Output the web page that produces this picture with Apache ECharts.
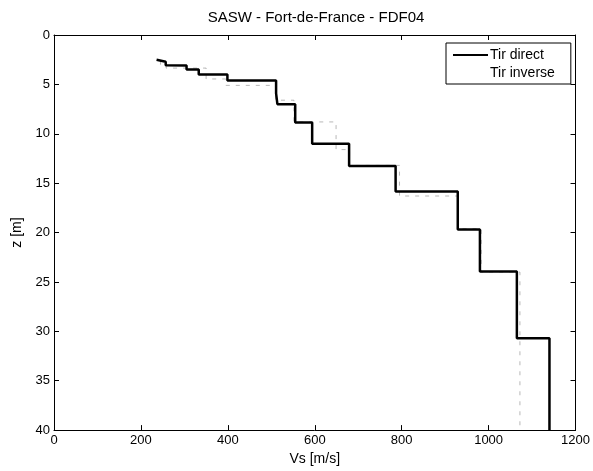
<!DOCTYPE html>
<html>
<head>
<meta charset="utf-8">
<script src="https://cdn.jsdelivr.net/npm/echarts@6/dist/echarts.min.js"></script>
<style>
  html, body { margin: 0; padding: 0; background: #fff; }
  #chart { width: 593px; height: 471px; }
</style>
</head>
<body>
<div id="chart"></div>
<script>
// step profiles: [Vs (m/s), z (m)]
const directVs = [236, 236, 257, 257, 259, 259, 305, 305, 333, 333, 399, 399, 511, 511, 514, 514, 555, 555, 594, 594, 679, 679, 786, 786, 929, 929, 980, 980, 1065, 1065, 1140, 1140];
const directZ  = [2.5, 2.7, 2.7, 3.05, 3.05, 3.1, 3.1, 3.5, 3.5, 4.0, 4.0, 4.6, 4.6, 5.9, 5.9, 7.0, 7.0, 8.85, 8.85, 11.0, 11.0, 13.25, 13.25, 15.85, 15.85, 19.7, 19.7, 23.95, 23.95, 30.7, 30.7, 40];

const inverseVs = [245, 245, 258, 258, 350, 350, 395, 395, 510, 510, 552, 552, 649, 649, 680, 680, 795, 795, 930, 930, 983, 983, 1072, 1072];
const inverseZ  = [2.6, 3.0, 3.0, 3.35, 3.35, 4.45, 4.45, 5.1, 5.1, 6.6, 6.6, 8.8, 8.8, 11.6, 11.6, 13.2, 13.2, 16.3, 16.3, 19.6, 19.6, 24.0, 24.0, 40];

const xTicks = [0, 200, 400, 600, 800, 1000, 1200];
const yTicks = [0, 5, 10, 15, 20, 25, 30, 35, 40];

const pairs = (xs, ys) => xs.map((v, i) => [v, ys[i]]);

const font = 'Liberation Sans, Arial, sans-serif';
const chart = echarts.init(document.getElementById('chart'));

const axisCommon = {
  type: 'value',
  axisLine: { show: true, onZero: false, lineStyle: { color: '#000', width: 1 } },
  axisTick: { show: true, inside: true, length: 5, lineStyle: { color: '#000' } },
  splitLine: { show: false }
};

chart.setOption({
  animation: false,
  backgroundColor: '#fff',
  title: {
    text: 'SASW - Fort-de-France - FDF04',
    left: 311, top: 5, textAlign: 'center',
    textStyle: { fontFamily: font, fontSize: 15, fontWeight: 'normal', color: '#000' }
  },
  grid: { left: 54, right: 16, top: 35, bottom: 35 },
  legend: {
    orient: 'vertical',
    left: 446, top: 43,
    padding: [5, 16, 4, 7],
    itemGap: 4,
    itemWidth: 35, itemHeight: 2,
    backgroundColor: '#fff',
    borderColor: '#000', borderWidth: 1,
    textStyle: { fontFamily: font, fontSize: 14, color: '#000', padding: [0, 0, 0, -3] },
    data: [
      { name: 'Tir direct', icon: 'rect', itemStyle: { color: '#000' } },
      { name: 'Tir inverse', icon: 'rect', itemStyle: { opacity: 0 } }
    ]
  },
  xAxis: [
    Object.assign({}, axisCommon, {
      min: 0, max: 1200, interval: 200, position: 'bottom',
      name: 'Vs [m/s]', nameLocation: 'middle', nameGap: 21,
      nameTextStyle: { fontFamily: font, fontSize: 14, color: '#000' },
      axisLabel: { fontFamily: font, fontSize: 13, color: '#000', margin: 4, formatter: v => String(v) }
    }),
    Object.assign({}, axisCommon, {
      min: 0, max: 1200, interval: 200, position: 'top',
      axisLabel: { show: false }
    })
  ],
  yAxis: [
    Object.assign({}, axisCommon, {
      min: 0, max: 40, interval: 5, inverse: true, position: 'left',
      name: 'z [m]', nameLocation: 'middle', nameGap: 25, nameRotate: 90,
      nameTextStyle: { fontFamily: font, fontSize: 14, color: '#000' },
      axisLabel: { fontFamily: font, fontSize: 13, color: '#000', margin: 4, formatter: v => String(v) }
    }),
    Object.assign({}, axisCommon, {
      min: 0, max: 40, interval: 5, inverse: true, position: 'right',
      axisLabel: { show: false }
    })
  ],
  series: [
    {
      name: 'Tir inverse', type: 'line', showSymbol: false, symbol: 'none',
      data: pairs(inverseVs, inverseZ),
      lineStyle: { color: '#9a9a9a', width: 0.7, type: [4, 6] },
      itemStyle: { color: '#9a9a9a' },
      z: 2
    },
    {
      name: 'Tir direct', type: 'line', showSymbol: false, symbol: 'none',
      data: pairs(directVs, directZ),
      lineStyle: { color: '#000', width: 2.5 },
      itemStyle: { color: '#000' },
      z: 3
    }
  ]
});
</script>
</body>
</html>
